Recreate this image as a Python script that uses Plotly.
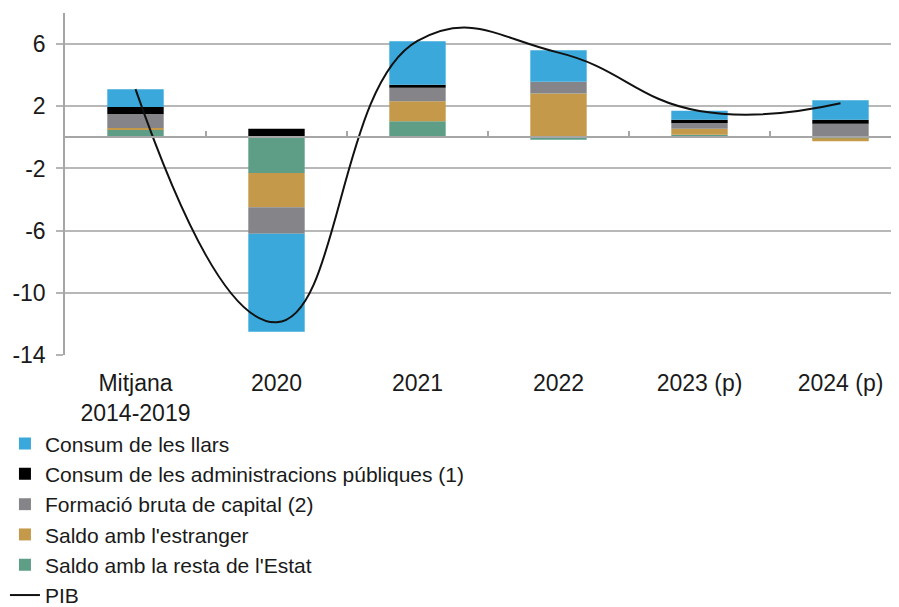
import plotly.graph_objects as go

categories = ["Mitjana<br>2014-2019", "2020", "2021", "2022", "2023 (p)", "2024 (p)"]
consum_llars = [1.15, -6.3, 2.8, 2.04, 0.58, 1.25]
consum_admin = [0.45, 0.55, 0.2, 0.0, 0.21, 0.26]
formacio_capital = [0.9, -1.7, 0.87, 0.75, 0.37, 0.88]
saldo_estranger = [0.1, -2.2, 1.29, 2.82, 0.39, -0.2]
saldo_estat = [0.5, -2.3, 1.03, -0.15, 0.17, -0.05]
pib = [3.1, -11.9, 6.2, 5.45, 1.7, 2.2]

y_ticks = [6, 2, -2, -6, -10, -14]

xs = list(range(len(categories)))
font_family = "Liberation Sans, Arial, sans-serif"
text_color = "#1a1a1a"

fig = go.Figure()

series = [
    ("Saldo amb la resta de l'Estat", saldo_estat, "#5E9E86"),
    ("Saldo amb l'estranger", saldo_estranger, "#C49A4A"),
    ("Formació bruta de capital (2)", formacio_capital, "#858589"),
    ("Consum de les administracions públiques (1)", consum_admin, "#000000"),
    ("Consum de les llars", consum_llars, "#3AA8DA"),
]
for name, vals, col in series:
    fig.add_trace(go.Bar(x=xs, y=vals, name=name, marker=dict(color=col, line=dict(width=0)),
                         width=0.4))

fig.add_trace(go.Scatter(x=xs, y=pib, name="PIB", mode="lines",
                         line=dict(color="#111111", width=2, shape="spline", smoothing=1.3)))

# invisible trace to activate xaxis2 (zero line with category ticks)
fig.add_trace(go.Scatter(x=[0], y=[0], xaxis="x2", mode="markers", marker=dict(opacity=0),
                         showlegend=False, hoverinfo="skip"))

fig.update_layout(
    width=891, height=599,
    barmode="relative",
    plot_bgcolor="white", paper_bgcolor="white",
    margin=dict(l=57, r=0, t=5, b=252, autoexpand=False),
    font=dict(family=font_family, size=22, color=text_color),
    showlegend=True,
    legend=dict(orientation="v", x=-0.072, xanchor="left", y=-0.2, yanchor="top",
                traceorder="normal", font=dict(size=21, color=text_color),
                itemwidth=30, tracegroupgap=0, bgcolor="rgba(0,0,0,0)"),
    xaxis=dict(range=[-0.5, 5.415], tickmode="array", tickvals=xs, ticktext=categories,
               showgrid=False, zeroline=False, showline=False, ticks="",
               ticklabelstandoff=12,
               tickfont=dict(size=23, color=text_color)),
    xaxis2=dict(overlaying="x", anchor="free", position=14 / 22, range=[-0.5, 5.415],
                tickmode="array", tickvals=[i + 0.5 for i in xs], showticklabels=False,
                ticks="inside", ticklen=6, tickwidth=1.5, tickcolor="#a6a6a6",
                showline=True, linecolor="#a6a6a6", linewidth=1.5, showgrid=False, zeroline=False),
    yaxis=dict(range=[-14, 8], tickmode="array", tickvals=y_ticks,
               ticktext=[str(v) for v in y_ticks],
               showgrid=True, gridcolor="#b8b8b8", gridwidth=1.5,
               zeroline=False, showline=True, linecolor="#a6a6a6", linewidth=1.5,
               ticks="outside", ticklen=7, tickcolor="#b5b5b5", tickwidth=1.5,
               ticklabelstandoff=6,
               tickfont=dict(size=23, color=text_color)),
)

order = ["Consum de les llars", "Consum de les administracions públiques (1)",
         "Formació bruta de capital (2)", "Saldo amb l'estranger",
         "Saldo amb la resta de l'Estat", "PIB"]
for tr in fig.data:
    if tr.name in order:
        tr.legendrank = order.index(tr.name) + 1

fig.write_html("out.html")
